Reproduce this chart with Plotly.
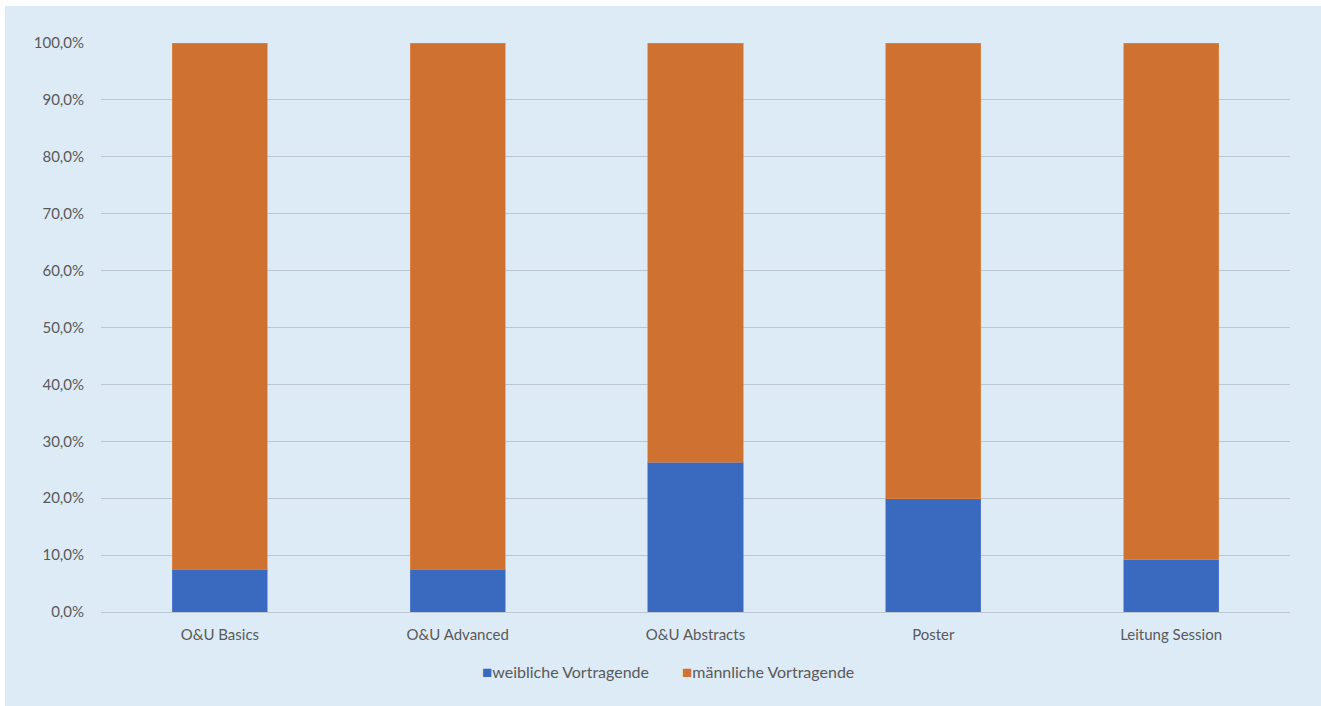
import plotly.graph_objects as go

categories = ["O&U Basics", "O&U Advanced", "O&U Abstracts", "Poster", "Leitung Session"]
weiblich = [0.075, 0.075, 0.263, 0.199, 0.092]
maennlich = [1 - v for v in weiblich]
series_names = ["weibliche Vortragende", "männliche Vortragende"]
colors = ["#3A69C0", "#CF7130"]

W, H = 1321, 706
ML, MR, MT, MB = 101, 31, 43, 94
PW, PH = W - ML - MR, H - MT - MB

BG = "#DDEBF7"
TXT = "#595959"
GRID = "#BCC6D0"
FONT = "Lato"

fig = go.Figure()
fig.add_trace(go.Bar(x=categories, y=weiblich, name=series_names[0], showlegend=False,
                     marker=dict(color=colors[0], line=dict(width=0.6, color="#5B82CF"))))
fig.add_trace(go.Bar(x=categories, y=maennlich, name=series_names[1], showlegend=False,
                     marker=dict(color=colors[1], line=dict(width=0.6, color="#E08A4E"))))

# white strips at top and left (screenshot border)
fig.add_shape(type="rect", xref="paper", yref="paper", layer="below",
              x0=-ML / PW, x1=(-ML + 5) / PW, y0=-MB / PH, y1=1 + MT / PH,
              fillcolor="white", line=dict(width=0))
fig.add_shape(type="rect", xref="paper", yref="paper", layer="below",
              x0=-ML / PW, x1=1 + MR / PW, y0=1 + (MT - 6) / PH, y1=1 + MT / PH,
              fillcolor="white", line=dict(width=0))

# legend built as text annotations (compact Excel-style legend)
legend_x_px = [480, 680]
for name, col, xpx in zip(series_names, colors, legend_x_px):
    fig.add_annotation(
        xref="paper", yref="paper", x=(xpx - ML) / PW, y=-(671 - 612) / PH,
        xanchor="left", yanchor="middle", showarrow=False,
        text=f"<span style='color:{col};font-size:17px'>■</span>{name}",
        font=dict(family=FONT, size=16, color=TXT),
    )

fig.update_layout(
    width=W, height=H,
    margin=dict(l=ML, r=MR, t=MT, b=MB, pad=0),
    barmode="stack", bargap=0.6,
    paper_bgcolor=BG, plot_bgcolor=BG,
    separators=",.",
    font=dict(family=FONT, size=15, color=TXT),
    showlegend=False,
    xaxis=dict(showgrid=False, showline=False, ticks="", zeroline=False,
               ticklabelstandoff=12,
               tickfont=dict(family=FONT, size=15, color=TXT)),
    yaxis=dict(range=[0, 1], dtick=0.1, tickformat=".1%", showgrid=True,
               gridcolor=GRID, gridwidth=1.2, zeroline=True, zerolinecolor=GRID,
               zerolinewidth=1.2, showline=False, ticks="", ticklabelstandoff=16,
               tickfont=dict(family=FONT, size=15, color=TXT)),
)

fig.write_html("out.html")
